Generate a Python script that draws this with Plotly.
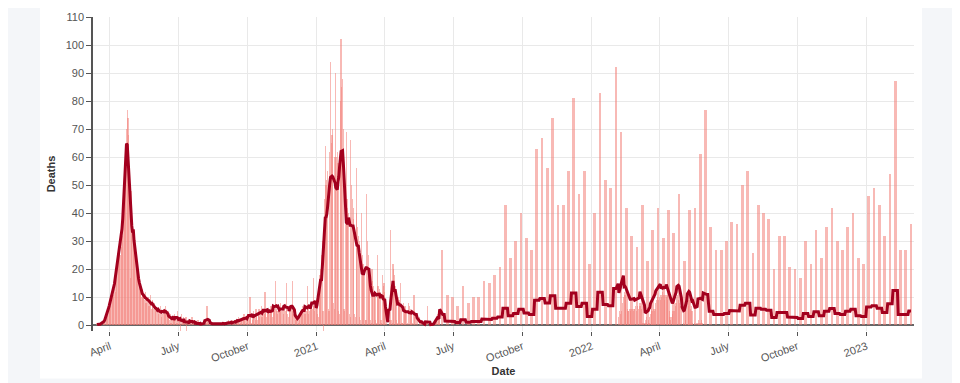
import numpy as np
import pandas as pd
import plotly.graph_objects as go

# Daily deaths, starting 2020-03-12 (one value per day) through 2020-12-31
deaths_2020 = [
    0, 0, 1, 0, 0, 1, 0,
    1, 0, 1, 0, 1, 2, 1,
    2, 3, 4, 5, 6, 8, 7,
    9, 10, 12, 11, 14, 13, 12,
    20, 22, 26, 24, 28, 30, 25,
    28, 32, 36, 42, 48, 55, 62,
    70, 77, 74, 68, 45, 17, 48,
    40, 36, 33, 30, 28, 25, 20,
    22, 18, 16, 15, 14, 12, 10,
    13, 11, 10, 9, 12, 8, 10,
    9, 10, 7, 8, 11, 6, 9,
    7, 6, 8, 5, 7, 6, 5,
    6, 4, 5, 7, 3, 5, 4,
    5, 6, 4, 7, 5, 3, 5,
    3, 2, 4, 1, 3, 2, 2,
    3, 4, 2, 3, 1, 5, 3,
    2, 3, -2, 4, 2, 1, 3,
    1, 2, 3, -3, 2, 1, 2,
    2, 1, 0, 3, 1, 2, 1,
    0, 1, 1, 0, 2, 0, 1,
    1, 0, 0, 1, 0, 1, 0,
    2, 1, 7, 2, 1, 1, 1,
    1, 0, 1, 0, 1, 0, 1,
    0, 1, 0, 1, 0, 0, 1,
    1, 0, 1, 1, 0, 1, 0,
    1, 1, 0, 2, 1, 1, 0,
    1, 2, 1, 0, 2, 1, 1,
    2, 1, 3, 2, 1, 2, 2,
    3, 2, 4, 2, 3, 1, 2,
    4, 3, 2, 10, 3, 1, 2,
    3, 5, 4, 2, 6, 3, 2,
    4, 6, 3, 5, 7, 3, 4,
    5, 4, 12, 5, 3, 4, 5,
    6, 4, 5, 7, 5, 3, 5,
    7, 5, 16, 6, 5, 4, 6,
    5, 6, 8, 5, 7, 4, 6,
    6, 5, 15, 6, 4, 3, 5,
    6, 5, 7, 16, 5, 4, 5,
    3, 2, 4, 2, 1, 3, 2,
    5, 6, 4, 7, 5, 6, 4,
    6, 5, 14, 6, 4, 5, 6,
    7, 8, 6, 17, 7, 5, 6,
    9,
]

# Daily deaths, 2021-01-01 through 2021-06-13
deaths_2021 = [
    9, 4, 3,
    15, 18, 20, 25, 30, 5, -2,
    45, 64, 50, 52, 55, 6, 5,
    62, 94, 65, 68, 70, 8, 6,
    60, 90, 60, 62, 58, 5, 4,
    80, 102, 85, 88, 70, 6, 5,
    50, 69, 45, 42, 40, 4, 3,
    66, 50, 45, 42, 38, 4, 3,
    56, 40, 35, 32, 30, 3, 2,
    40, 25, 22, 20, 18, 2, 2,
    47, 30, 25, 20, 15, 2, 1,
    20, 16, 14, 12, 10, 2, 1,
    25, 14, 12, 13, 11, 2, 1,
    18, 14, 15, 12, 4, 1, 0,
    0, 0, 1, 2, 34, 2, 1,
    22, 20, 18, 14, 10, 2, 1,
    10, 9, 8, 15, 7, 1, 1,
    8, 7, 6, 7, 5, 1, 0,
    8, 7, 6, 5, 4, 1, 0,
    11, 5, 4, 4, 3, 0, 0,
    3, 2, 1, 2, 1, 0, 0,
    1, 0, 0, 1, 7, 0, 0,
    0, 1, 0, 0, 1, 0, 0,
    1, 2, 3, 4, 3, 2, 4,
]

# Weekly reported totals, one report every 7 days from 2021-06-16
weekly_reports = [
    27, 11, 10, 7, 14, 8, 10, 10, 16, 15,
    18, 21, 43, 24, 30, 40, 31, 27, 63, 67,
    56, 74, 43, 43, 55, 81, 47, 55, 22, 40,
    83, 52, 49, 92, 63, 34, 27, 22, 40, 21,
    27, 34, 21, 33, 27, 37, 23, 33, 42, 61,
    77, 35, 27, 27, 30, 37, 36, 50, 55, 26,
    43, 40, 38, 20, 32, 32, 21, 20, 17, 30,
    22, 34, 24, 35, 42, 30, 27, 35, 40, 24,
    22, 46, 49, 43, 32, 54, 87, 27, 27, 36,
]

# Extra daily reports, 2022-02-06 through 2022-05-28
daily_2022 = [
    3, 5, 4, 6, 5, 8, 10,
    12, 11, 9, 8, 6, 5, 5,
    6, 5, 6, 5, 6, 5, 6,
    6, 7, 5, 6, 7, 6, 7,
    8, 7, 6, 3, 1, 0, 1,
    2, 1, 3, 2, 2, 1, 3,
    4, 6, 5, 7, 6, 5, 6,
    8, 9, 10, 8, 9, 10, 9,
    11, 10, 12, 10, 11, 9, 11,
    10, 11, 9, 8, 5, 3, 2,
    3, 4, 5, 6, 5, 7, 8,
    10, 11, 9, 10, 8, 7, 6,
    0, 0, 1, 0, 2, 5, 7,
    8, 7, 9, 8, 6, 7, 5,
    1, 0, 1, 0, 0, 1, 0,
    1, 2, 1, 0, 1, 2, 1,
]

tick_vals = ["2020-04-01", "2020-07-01", "2020-10-01", "2021-01-01",
             "2021-04-01", "2021-07-01", "2021-10-01", "2022-01-01",
             "2022-04-01", "2022-07-01", "2022-10-01", "2023-01-01"]
tick_text = ["April", "July", "October", "2021",
             "April", "July", "October", "2022",
             "April", "July", "October", "2023"]

# ---- assemble the daily series ----
idx = pd.date_range("2020-03-12", "2023-03-04", freq="D")
s = pd.Series(0.0, index=idx)
s.loc[pd.date_range("2020-03-12", periods=len(deaths_2020), freq="D")] = deaths_2020
s.loc[pd.date_range("2021-01-01", periods=len(deaths_2021), freq="D")] = deaths_2021
weekly_dates = pd.date_range("2021-06-16", periods=len(weekly_reports), freq="7D")
s.loc[weekly_dates] = s.loc[weekly_dates].values + np.array(weekly_reports, dtype=float)
d22 = pd.date_range("2022-02-06", periods=len(daily_2022), freq="D")
s.loc[d22] = s.loc[d22].values + np.array(daily_2022, dtype=float)

avg = s.rolling(7, center=True).mean()

DAY = 86400000
widths = np.where(idx.isin(weekly_dates), 3.6 * DAY, 1.6 * DAY)

fig = go.Figure()
fig.add_trace(go.Bar(
    x=idx, y=s.values, width=widths,
    marker=dict(color="rgba(243,128,120,0.55)", line=dict(width=0)),
    name="Daily deaths", hoverinfo="x+y",
))
fig.add_trace(go.Scatter(
    x=idx, y=avg.values, mode="lines",
    line=dict(color="#a3001e", width=3),
    name="7-day average",
))

FONT = "Liberation Sans, Arial, sans-serif"
# the page body adds an 8px offset, so the figure is 8px smaller and margins shifted
fig.update_layout(
    width=952, height=375,
    margin=dict(l=85, r=46, t=9, b=52, autoexpand=False),
    paper_bgcolor="#f4f6f9",
    plot_bgcolor="rgba(0,0,0,0)",
    showlegend=False,
    bargap=0,
    font=dict(family=FONT, size=11, color="#555"),
    shapes=[
        dict(type="rect", xref="paper", yref="paper",
             x0=-0.0646, x1=1.0097, y0=-0.151, y1=1.045,
             fillcolor="white", line=dict(width=0), layer="below"),
    ],
)
fig.update_yaxes(
    range=[-2, 110], tick0=0, dtick=10, automargin=False,
    showgrid=True, gridcolor="#e9e9e9", gridwidth=1,
    zeroline=True, zerolinecolor="#666", zerolinewidth=2,
    showline=True, linecolor="#555", linewidth=1.5,
    ticks="outside", ticklen=5, tickcolor="#555",
    tickfont=dict(family=FONT, size=11, color="#555"),
    title=dict(text="<b>Deaths</b>", standoff=8,
               font=dict(family=FONT, size=11, color="#333")),
)
fig.update_xaxes(
    type="date", range=["2020-03-09 12:00", "2023-03-05"], automargin=False,
    tickmode="array", tickvals=tick_vals, ticktext=tick_text,
    tickangle=-20,
    showgrid=True, gridcolor="#e9e9e9", gridwidth=1,
    showline=False, zeroline=False,
    ticks="outside", ticklen=4, tickcolor="#555",
    tickfont=dict(family=FONT, size=11, color="#555"),
    title=dict(text="<b>Date</b>", standoff=4,
               font=dict(family=FONT, size=11, color="#333")),
)

fig.write_html("out.html")
